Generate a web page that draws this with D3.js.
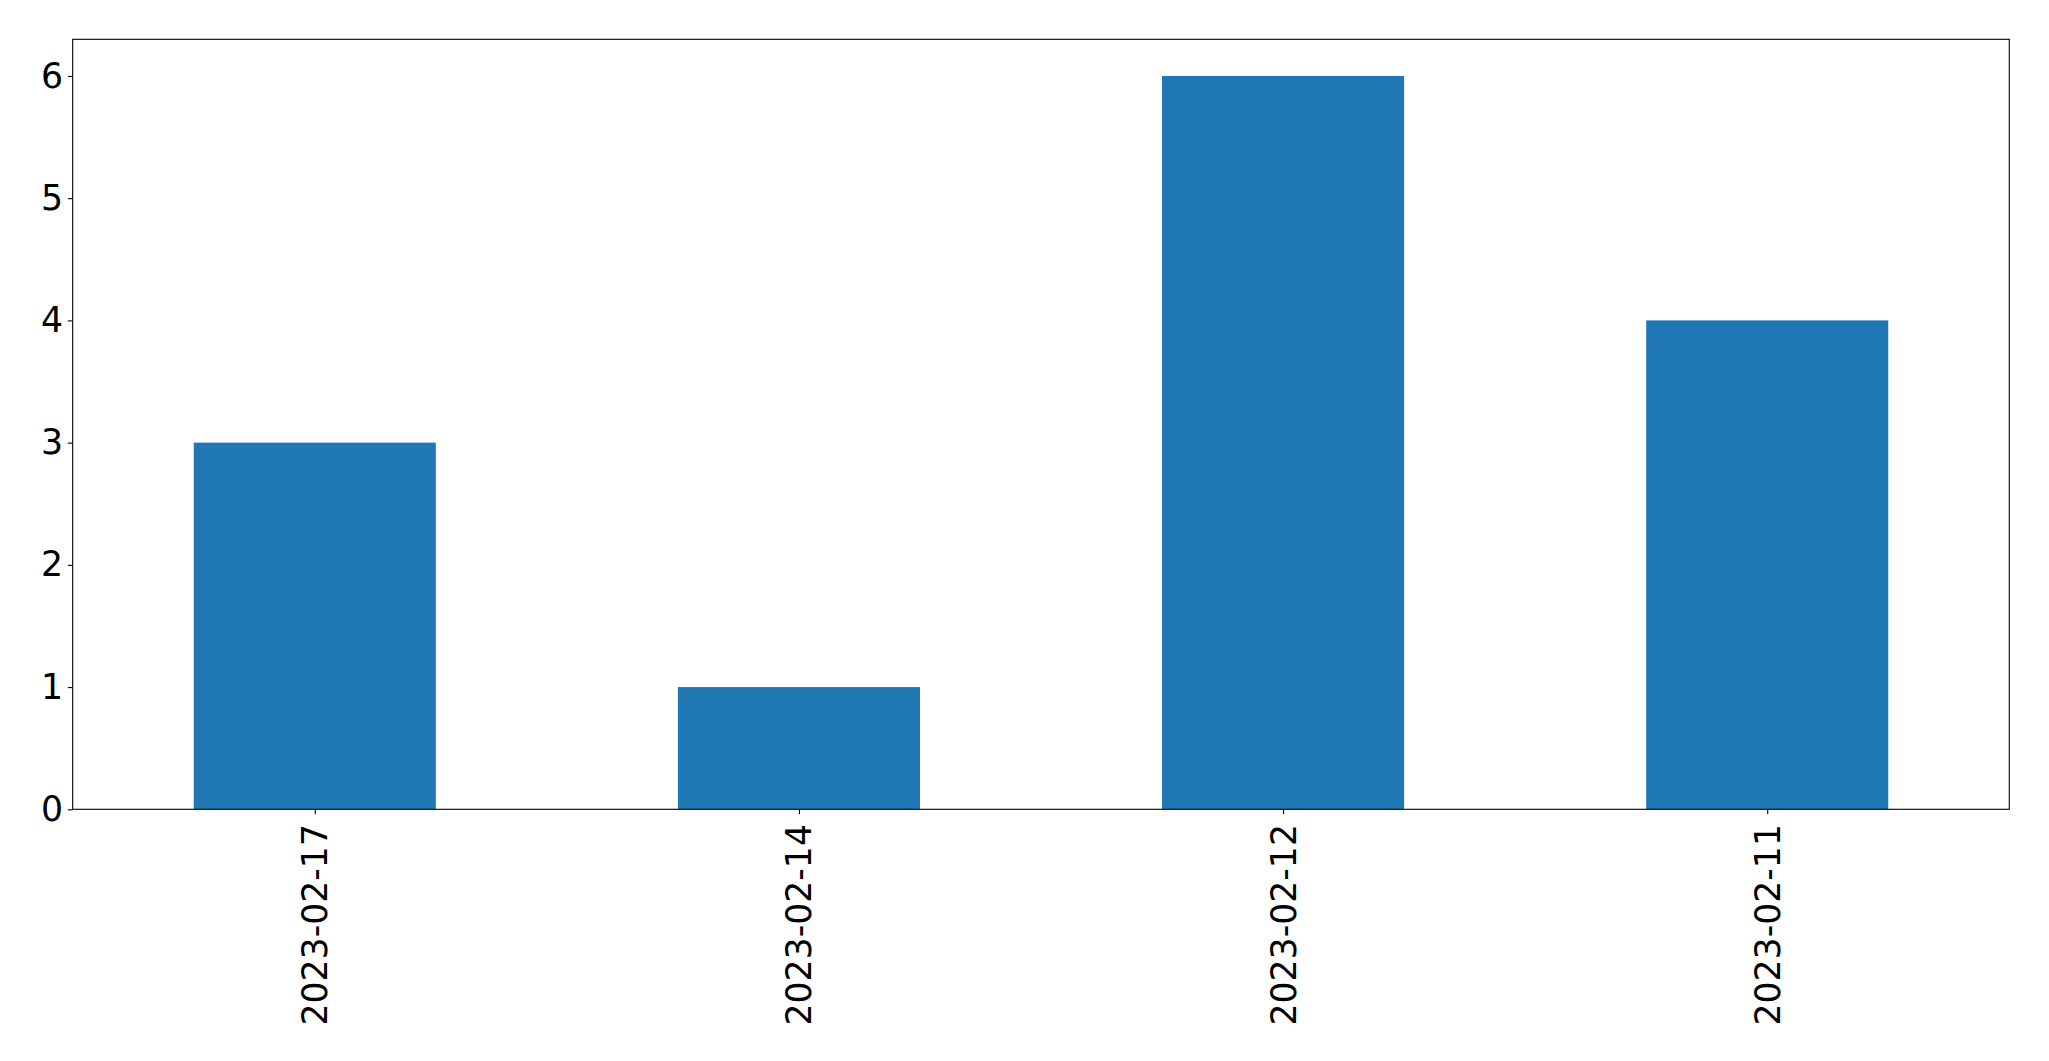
<!DOCTYPE html>
<html>
<head>
<meta charset="utf-8">
<script src="https://cdn.jsdelivr.net/npm/d3@7"></script>
<style>
  html, body { margin: 0; padding: 0; background: #fff; }
  svg { display: block; }
  text { font-family: "DejaVu Sans", sans-serif; }
</style>
</head>
<body>
<script>
const categories = ["2023-02-17", "2023-02-14", "2023-02-12", "2023-02-11"];
const values = [3, 1, 6, 4];
const yTicks = [0, 1, 2, 3, 4, 5, 6];

const W = 2049, H = 1061;
const margin = { left: 72.7, right: 2049 - 2009.3, top: 39.3, bottom: 1061 - 809.3 };
const iw = W - margin.left - margin.right;
const ih = H - margin.top - margin.bottom;

const svg = d3.select("body").append("svg").attr("width", W).attr("height", H);
const g = svg.append("g").attr("transform", `translate(${margin.left},${margin.top})`);

const x = d3.scaleLinear().domain([-0.5, categories.length - 0.5]).range([0, iw]);
const y = d3.scaleLinear().domain([0, 6.3]).range([ih, 0]);
const barW = 0.5;

g.selectAll("rect.bar").data(values).enter().append("rect")
  .attr("class", "bar")
  .attr("x", (d, i) => x(i - barW / 2))
  .attr("width", (d, i) => x(i + barW / 2) - x(i - barW / 2))
  .attr("y", d => y(d))
  .attr("height", d => y(0) - y(d))
  .attr("fill", "#1f77b4");

const fs = 34.7;
const tickLen = 4.86;
const pad = 4.86;

const yAxis = d3.axisLeft(y).tickValues(yTicks).tickFormat(d3.format("d"))
  .tickSizeInner(tickLen).tickSizeOuter(0).tickPadding(pad);
const ya = g.append("g").call(yAxis);
ya.select(".domain").remove();
ya.selectAll(".tick line").attr("stroke", "#000").attr("stroke-width", 1.1);
ya.selectAll(".tick text").attr("font-size", fs).attr("fill", "#000")
  .attr("font-family", "DejaVu Sans, sans-serif");

const xAxis = d3.axisBottom(x).tickValues(d3.range(categories.length))
  .tickFormat(i => categories[i]).tickSizeInner(tickLen).tickSizeOuter(0).tickPadding(pad);
const xa = g.append("g").attr("transform", `translate(0,${ih})`).call(xAxis);
xa.select(".domain").remove();
xa.selectAll(".tick line").attr("stroke", "#000").attr("stroke-width", 1.1);
xa.selectAll(".tick text")
  .attr("font-size", fs).attr("fill", "#000")
  .attr("font-family", "DejaVu Sans, sans-serif")
  .attr("y", null).attr("dy", null)
  .attr("text-anchor", "end")
  .attr("dominant-baseline", "central")
  .attr("transform", `translate(0,${tickLen + pad + 5}) rotate(-90)`);

g.append("rect").attr("x", 0).attr("y", 0).attr("width", iw).attr("height", ih)
  .attr("fill", "none").attr("stroke", "#000").attr("stroke-width", 1.1);
</script>
</body>
</html>
